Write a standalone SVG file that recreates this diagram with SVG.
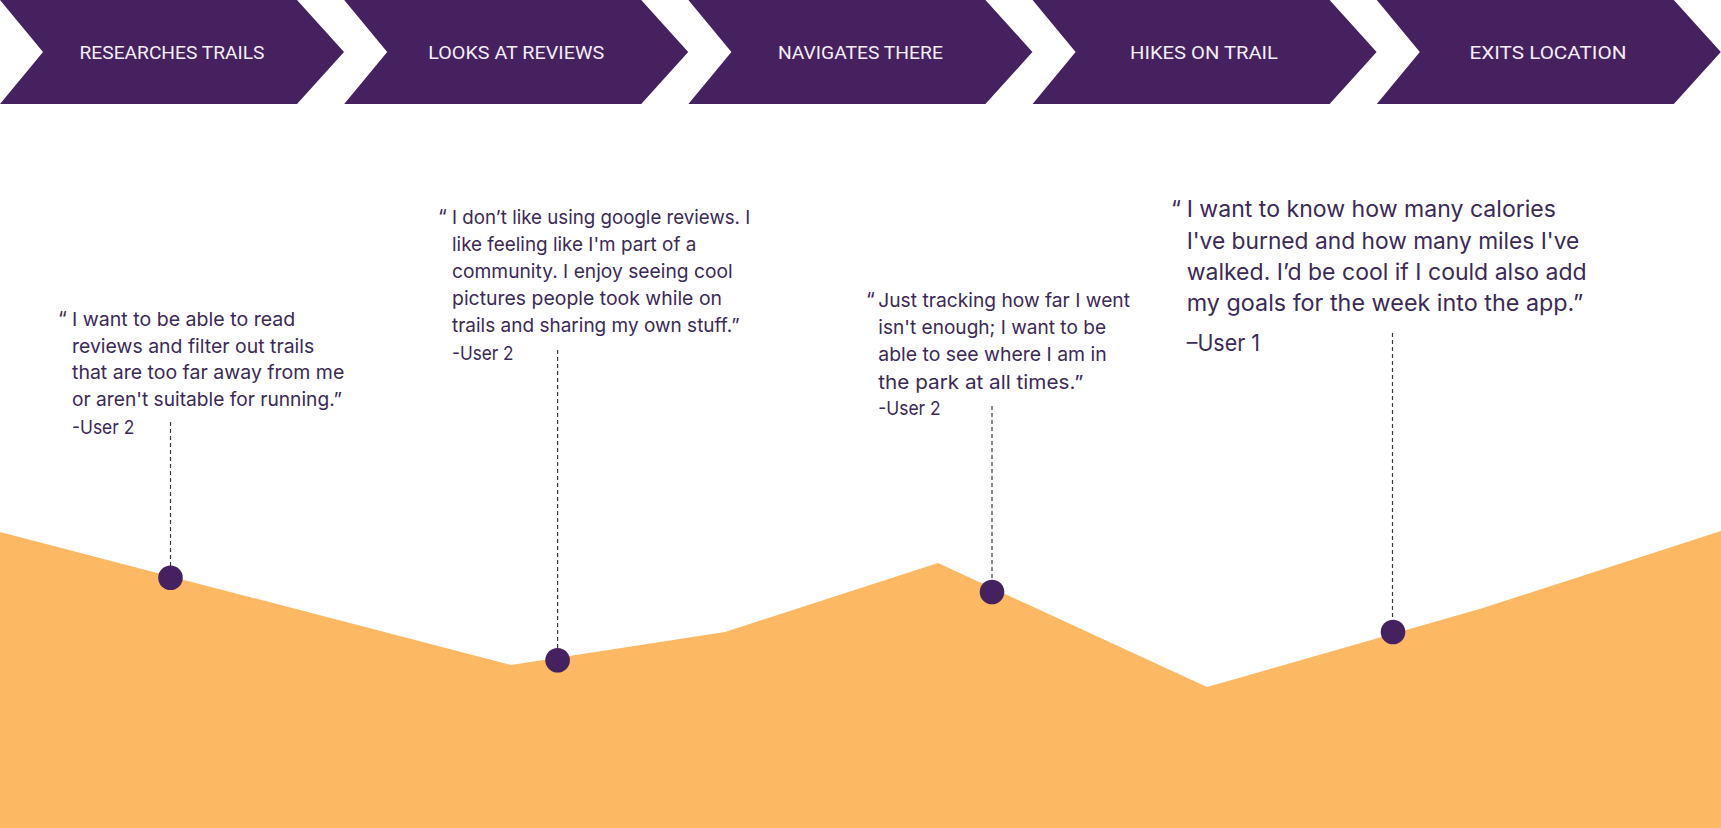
<svg xmlns="http://www.w3.org/2000/svg" width="1721" height="828" viewBox="0 0 1721 828">
<style>
.chev{fill:#45215F}
.step{font-family:Roboto,"Liberation Sans",sans-serif;font-size:18.5px;fill:#F4EEF8;text-anchor:middle}
.q{font-family:Inter,"Liberation Sans",sans-serif;font-size:19px;fill:#3B2A57}
.q4{font-family:Inter,"Liberation Sans",sans-serif;font-size:22.5px;fill:#3B2A57}
.qm{font-family:Inter,"Liberation Sans",sans-serif;font-size:20px;fill:#3B2A57}
.dash{stroke:#3A3A3A;stroke-width:1.2;stroke-dasharray:4 3;fill:none}
.dot{fill:#45215F}
</style>
<rect width="1721" height="828" fill="#FFFFFF"/>
<g id="mountain">
<polygon points="0,532 511,665 725,632 938,563 1207,687 1483,608 1721,531 1721,828 0,828" fill="#FDB863"/>
</g>
<g id="step1"><polygon class="chev" points="0,0 297,0 344,52 297,104 0,104 43,52"/><text class="step" x="172" y="59.3" textLength="185" lengthAdjust="spacingAndGlyphs">RESEARCHES TRAILS</text></g>
<g id="step2"><polygon class="chev" points="344.2,0 641.2,0 688.2,52 641.2,104 344.2,104 387.2,52"/><text class="step" x="516.2" y="59.3" textLength="176" lengthAdjust="spacingAndGlyphs">LOOKS AT REVIEWS</text></g>
<g id="step3"><polygon class="chev" points="688.4,0 985.4,0 1032.4,52 985.4,104 688.4,104 731.4,52"/><text class="step" x="860.4" y="59.3" textLength="165" lengthAdjust="spacingAndGlyphs">NAVIGATES THERE</text></g>
<g id="step4"><polygon class="chev" points="1032.6,0 1329.6,0 1376.6,52 1329.6,104 1032.6,104 1075.6,52"/><text class="step" x="1204" y="59.3" textLength="148" lengthAdjust="spacingAndGlyphs">HIKES ON TRAIL</text></g>
<g id="step5"><polygon class="chev" points="1376.8,0 1673.8,0 1720.8,52 1673.8,104 1376.8,104 1419.8,52"/><text class="step" x="1548" y="59.3" textLength="157" lengthAdjust="spacingAndGlyphs">EXITS LOCATION</text></g>
<g id="connectors">
<line class="dash" x1="170.5" y1="422" x2="170.5" y2="570"/>
<line class="dash" x1="557.6" y1="350" x2="557.6" y2="652"/>
<line class="dash" x1="992" y1="406" x2="992" y2="584"/>
<line class="dash" x1="1392.5" y1="333" x2="1392.5" y2="624"/>
</g>
<g id="point1"><circle class="dot" cx="170.5" cy="577.7" r="12.3"/></g>
<g id="point2"><circle class="dot" cx="557.6" cy="660.3" r="12.3"/></g>
<g id="point3"><circle class="dot" cx="992" cy="592" r="12.3"/></g>
<g id="point4"><circle class="dot" cx="1393" cy="632" r="12.3"/></g>
<g id="quote1">
<text class="qm" x="58" y="326">“</text>
<text class="q" x="72" y="326" textLength="223.3" lengthAdjust="spacingAndGlyphs">I want to be able to read</text>
<text class="q" x="72" y="352.7" textLength="242.3" lengthAdjust="spacingAndGlyphs">reviews and filter out trails</text>
<text class="q" x="72" y="379.3" textLength="272.3" lengthAdjust="spacingAndGlyphs">that are too far away from me</text>
<text class="q" x="72" y="406" textLength="270" lengthAdjust="spacingAndGlyphs">or aren't suitable for running.”</text>
<text class="q" x="72" y="434" textLength="62.3" lengthAdjust="spacingAndGlyphs">-User 2</text>
</g>
<g id="quote2">
<text class="qm" x="438" y="224">“</text>
<text class="q" x="452" y="224" textLength="298.3" lengthAdjust="spacingAndGlyphs">I don’t like using google reviews. I</text>
<text class="q" x="452" y="251" textLength="244.3" lengthAdjust="spacingAndGlyphs">like feeling like I'm part of a</text>
<text class="q" x="452" y="278" textLength="280.6" lengthAdjust="spacingAndGlyphs">community. I enjoy seeing cool</text>
<text class="q" x="452" y="305" textLength="270" lengthAdjust="spacingAndGlyphs">pictures people took while on</text>
<text class="q" x="452" y="332" textLength="287.6" lengthAdjust="spacingAndGlyphs">trails and sharing my own stuff.”</text>
<text class="q" x="452" y="360" textLength="61.6" lengthAdjust="spacingAndGlyphs">-User 2</text>
</g>
<g id="quote3">
<text class="qm" x="866" y="306.7">“</text>
<text class="q" x="878.3" y="306.7" textLength="251.7" lengthAdjust="spacingAndGlyphs">Just tracking how far I went</text>
<text class="q" x="878.3" y="334" textLength="227.7" lengthAdjust="spacingAndGlyphs">isn't enough; I want to be</text>
<text class="q" x="878.3" y="361.3" textLength="228.4" lengthAdjust="spacingAndGlyphs">able to see where I am in</text>
<text class="q" x="878.3" y="388.5" textLength="205" lengthAdjust="spacingAndGlyphs">the park at all times.”</text>
<text class="q" x="878.3" y="415" textLength="62.4" lengthAdjust="spacingAndGlyphs">-User 2</text>
</g>
<g id="quote4">
<text class="q4" x="1171" y="217.3">“</text>
<text class="q4" x="1186.7" y="217.3" textLength="369.3" lengthAdjust="spacingAndGlyphs">I want to know how many calories</text>
<text class="q4" x="1186.7" y="248.5" textLength="392.6" lengthAdjust="spacingAndGlyphs">I've burned and how many miles I've</text>
<text class="q4" x="1186.7" y="279.8" textLength="400" lengthAdjust="spacingAndGlyphs">walked. I’d be cool if I could also add</text>
<text class="q4" x="1186.7" y="311" textLength="396.6" lengthAdjust="spacingAndGlyphs">my goals for the week into the app.”</text>
<text class="q4" x="1186.7" y="350.7" textLength="73.3" lengthAdjust="spacingAndGlyphs">–User 1</text>
</g>
</svg>
